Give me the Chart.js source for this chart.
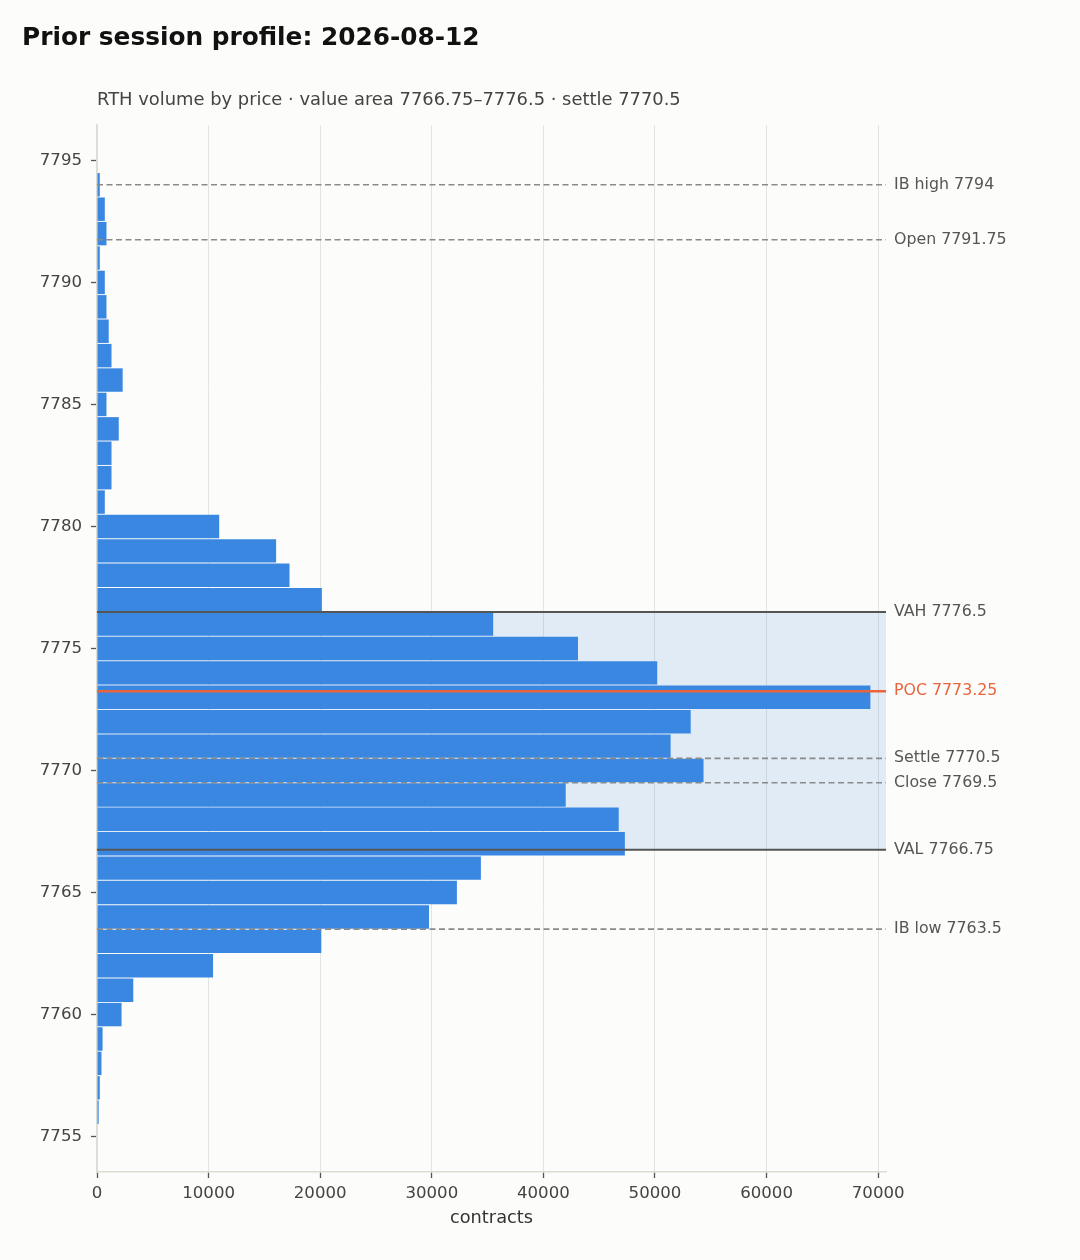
<!DOCTYPE html>
<html>
<head>
<meta charset="utf-8">
<script src="https://cdn.jsdelivr.net/npm/chart.js@4.4.1/dist/chart.umd.min.js"></script>
<style>
  html, body { margin: 0; padding: 0; background: #fcfcfa; }
  #profile { display: block; }
</style>
</head>
<body>
<canvas id="profile" width="1080" height="1260"></canvas>
<script>
//data
const prices = [7756, 7757, 7758, 7759, 7760, 7761, 7762, 7763, 7764, 7765,
  7766, 7767, 7768, 7769, 7770, 7771, 7772, 7773, 7774, 7775,
  7776, 7777, 7778, 7779, 7780, 7781, 7782, 7783, 7784, 7785,
  7786, 7787, 7788, 7789, 7790, 7791, 7792, 7793, 7794];
const volumes = [150, 250, 400, 500, 2200, 3250, 10400, 20100, 29750, 32250,
  34400, 47300, 46750, 42000, 54350, 51400, 53200, 69300, 50200, 43100,
  35500, 20150, 17250, 16050, 10950, 700, 1300, 1300, 1950, 850,
  2300, 1300, 1050, 850, 700, 250, 850, 700, 250];

const priceTicks = [7755, 7760, 7765, 7770, 7775, 7780, 7785, 7790, 7795];
const volumeTicks = [0, 10000, 20000, 30000, 40000, 50000, 60000, 70000];

//reference levels
const levelNames = ["IB high", "Open", "VAH", "POC", "Settle", "Close", "VAL", "IB low"];
const levelPrices = [7794, 7791.75, 7776.5, 7773.25, 7770.5, 7769.5, 7766.75, 7763.5];
const valueAreaLow = 7766.75;
const valueAreaHigh = 7776.5;

const titleText = "Prior session profile: 2026-08-12";
const subtitleText = "RTH volume by price \u00b7 value area 7766.75\u20137776.5 \u00b7 settle 7770.5";

const FONT = "'DejaVu Sans', sans-serif";
const POC_COLOR = "#e8643c";

//como se dibuja cada linea
const lineStyle = (name) => {
  if (name === "POC") return { color: POC_COLOR, width: 2.5, dash: [], text: POC_COLOR };
  if (name === "VAH" || name === "VAL") return { color: "#555555", width: 2, dash: [], text: "#555555" };
  return { color: "#8a8a8a", width: 1.6, dash: [6, 3.5], text: "#555555" };
};

//fondo del value area, debajo de las barras
const valueAreaPlugin = {
  id: "valueArea",
  beforeDatasetsDraw(chart) {
    const { ctx, chartArea, scales } = chart;
    const yTop = scales.y.getPixelForValue(valueAreaHigh);
    const yBot = scales.y.getPixelForValue(valueAreaLow);
    ctx.save();
    ctx.fillStyle = "rgba(60, 135, 230, 0.14)";
    ctx.fillRect(chartArea.left, yTop, chartArea.right - chartArea.left, yBot - yTop);
    ctx.restore();
  }
};

//lineas de referencia y etiquetas a la derecha
const levelsPlugin = {
  id: "levels",
  afterDatasetsDraw(chart) {
    const { ctx, chartArea, scales } = chart;
    ctx.save();
    levelNames.forEach((name, i) => {
      const price = levelPrices[i];
      const st = lineStyle(name);
      const y = scales.y.getPixelForValue(price);
      ctx.beginPath();
      ctx.strokeStyle = st.color;
      ctx.lineWidth = st.width;
      ctx.setLineDash(st.dash);
      ctx.moveTo(chartArea.left, y);
      ctx.lineTo(chartArea.right, y);
      ctx.stroke();
      ctx.setLineDash([]);
      ctx.fillStyle = st.text;
      ctx.font = "15.8px " + FONT;
      ctx.textAlign = "left";
      ctx.textBaseline = "middle";
      ctx.fillText(name + " " + price, chartArea.right + 8, y);
    });
    ctx.restore();
  }
};

//titulo y subtitulo
const headerPlugin = {
  id: "header",
  afterDraw(chart) {
    const { ctx, chartArea } = chart;
    ctx.save();
    ctx.textAlign = "left";
    ctx.textBaseline = "alphabetic";
    ctx.fillStyle = "#111111";
    ctx.font = "bold 24.8px " + FONT;
    ctx.fillText(titleText, 22, 45);
    ctx.fillStyle = "#444444";
    ctx.font = "17.9px " + FONT;
    ctx.fillText(subtitleText, chartArea.left, 105);
    ctx.restore();
  }
};

const barData = prices.map((p, i) => ({ x: volumes[i], y: p }));

const config = {
  type: "bar",
  data: {
    datasets: [{
      data: barData,
      backgroundColor: "#3a87e2",
      borderWidth: 0,
      barPercentage: 0.96,
      categoryPercentage: 1
    }]
  },
  options: {
    indexAxis: "y",
    responsive: false,
    animation: false,
    devicePixelRatio: 1,
    layout: { padding: { top: 125, right: 194, bottom: 18, left: 0 } },
    plugins: {
      legend: { display: false },
      tooltip: { enabled: false }
    },
    scales: {
      y: {
        type: "linear",
        offset: false,
        min: 7753.55,
        max: 7796.45,
        afterFit: (s) => { s.width = 97; },
        afterBuildTicks: (s) => { s.ticks = priceTicks.map((v) => ({ value: v })); },
        grid: { offset: false, drawOnChartArea: false, drawTicks: true, tickLength: 6, tickColor: "#555555", tickWidth: 1.3 },
        border: { display: true, color: "#dcdcd4", width: 1.5 },
        ticks: {
          color: "#444444",
          font: { family: FONT, size: 16.6 },
          padding: 9,
          callback: (v) => String(v)
        }
      },
      x: {
        type: "linear",
        position: "bottom",
        min: 0,
        max: 70700,
        afterFit: (s) => { s.height = 70; },
        afterBuildTicks: (s) => { s.ticks = volumeTicks.map((v) => ({ value: v })); },
        grid: { color: "#e4e4e0", lineWidth: 1, drawTicks: true, tickLength: 6, tickColor: "#555555", tickWidth: 1.3 },
        border: { display: true, color: "#dcdcd4", width: 1.5 },
        ticks: {
          color: "#444444",
          font: { family: FONT, size: 16.6 },
          padding: 6,
          maxRotation: 0,
          callback: (v) => String(v)
        },
        title: {
          display: true,
          text: "contracts",
          color: "#333333",
          font: { family: FONT, size: 17.8 },
          padding: { top: 13, bottom: 13 }
        }
      }
    }
  },
  plugins: [valueAreaPlugin, levelsPlugin, headerPlugin]
};

const myChart = new Chart(document.getElementById("profile"), config);
</script>
</body>
</html>
